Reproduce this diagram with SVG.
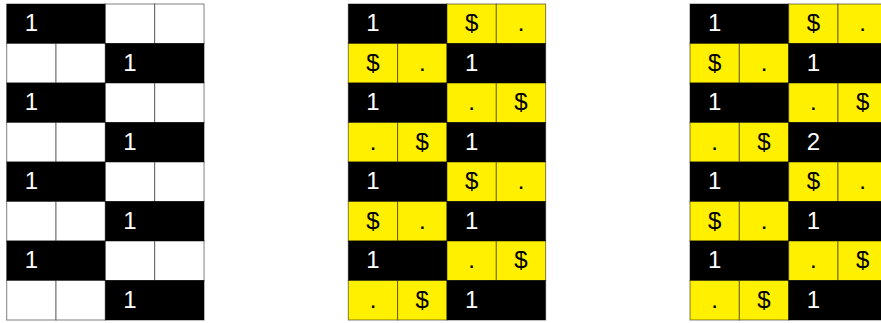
<svg xmlns="http://www.w3.org/2000/svg" width="881" height="323" viewBox="0 0 881 323">
<style>
rect{stroke:rgba(0,0,0,0.5);stroke-width:1}
rect.bg{stroke:none;fill:#fff}
.b{fill:#000}
.w{fill:#fff}
.y{fill:#fff000}
text{font-family:"Liberation Sans",Arial,sans-serif;font-size:24px;text-anchor:middle}
.tw{fill:#fff}
.tk{fill:#000}
</style>
<rect class="bg" x="0" y="0" width="881" height="323"/>
<g id="grid1">
<g id="g1r0"><rect class="b" x="6.7" y="4" width="98.67" height="39.5"/><text class="tw" x="31.37" y="31">1</text><rect class="w" x="105.37" y="4" width="49.33" height="39.5"/><rect class="w" x="154.7" y="4" width="49.33" height="39.5"/></g>
<g id="g1r1"><rect class="w" x="6.7" y="43.5" width="49.33" height="39.5"/><rect class="w" x="56.03" y="43.5" width="49.33" height="39.5"/><rect class="b" x="105.37" y="43.5" width="98.67" height="39.5"/><text class="tw" x="130.03" y="70.5">1</text></g>
<g id="g1r2"><rect class="b" x="6.7" y="83" width="98.67" height="39.5"/><text class="tw" x="31.37" y="110">1</text><rect class="w" x="105.37" y="83" width="49.33" height="39.5"/><rect class="w" x="154.7" y="83" width="49.33" height="39.5"/></g>
<g id="g1r3"><rect class="w" x="6.7" y="122.5" width="49.33" height="39.5"/><rect class="w" x="56.03" y="122.5" width="49.33" height="39.5"/><rect class="b" x="105.37" y="122.5" width="98.67" height="39.5"/><text class="tw" x="130.03" y="149.5">1</text></g>
<g id="g1r4"><rect class="b" x="6.7" y="162" width="98.67" height="39.5"/><text class="tw" x="31.37" y="189">1</text><rect class="w" x="105.37" y="162" width="49.33" height="39.5"/><rect class="w" x="154.7" y="162" width="49.33" height="39.5"/></g>
<g id="g1r5"><rect class="w" x="6.7" y="201.5" width="49.33" height="39.5"/><rect class="w" x="56.03" y="201.5" width="49.33" height="39.5"/><rect class="b" x="105.37" y="201.5" width="98.67" height="39.5"/><text class="tw" x="130.03" y="228.5">1</text></g>
<g id="g1r6"><rect class="b" x="6.7" y="241" width="98.67" height="39.5"/><text class="tw" x="31.37" y="268">1</text><rect class="w" x="105.37" y="241" width="49.33" height="39.5"/><rect class="w" x="154.7" y="241" width="49.33" height="39.5"/></g>
<g id="g1r7"><rect class="w" x="6.7" y="280.5" width="49.33" height="39.5"/><rect class="w" x="56.03" y="280.5" width="49.33" height="39.5"/><rect class="b" x="105.37" y="280.5" width="98.67" height="39.5"/><text class="tw" x="130.03" y="307.5">1</text></g>
</g>
<g id="grid2">
<g id="g2r0"><rect class="b" x="348.3" y="4" width="98.67" height="39.5"/><text class="tw" x="372.97" y="31">1</text><rect class="y" x="446.97" y="4" width="49.33" height="39.5"/><text class="tk" x="471.63" y="31">$</text><rect class="y" x="496.3" y="4" width="49.33" height="39.5"/><text class="tk" x="520.97" y="31">.</text></g>
<g id="g2r1"><rect class="y" x="348.3" y="43.5" width="49.33" height="39.5"/><text class="tk" x="372.97" y="70.5">$</text><rect class="y" x="397.63" y="43.5" width="49.33" height="39.5"/><text class="tk" x="422.3" y="70.5">.</text><rect class="b" x="446.97" y="43.5" width="98.67" height="39.5"/><text class="tw" x="471.63" y="70.5">1</text></g>
<g id="g2r2"><rect class="b" x="348.3" y="83" width="98.67" height="39.5"/><text class="tw" x="372.97" y="110">1</text><rect class="y" x="446.97" y="83" width="49.33" height="39.5"/><text class="tk" x="471.63" y="110">.</text><rect class="y" x="496.3" y="83" width="49.33" height="39.5"/><text class="tk" x="520.97" y="110">$</text></g>
<g id="g2r3"><rect class="y" x="348.3" y="122.5" width="49.33" height="39.5"/><text class="tk" x="372.97" y="149.5">.</text><rect class="y" x="397.63" y="122.5" width="49.33" height="39.5"/><text class="tk" x="422.3" y="149.5">$</text><rect class="b" x="446.97" y="122.5" width="98.67" height="39.5"/><text class="tw" x="471.63" y="149.5">1</text></g>
<g id="g2r4"><rect class="b" x="348.3" y="162" width="98.67" height="39.5"/><text class="tw" x="372.97" y="189">1</text><rect class="y" x="446.97" y="162" width="49.33" height="39.5"/><text class="tk" x="471.63" y="189">$</text><rect class="y" x="496.3" y="162" width="49.33" height="39.5"/><text class="tk" x="520.97" y="189">.</text></g>
<g id="g2r5"><rect class="y" x="348.3" y="201.5" width="49.33" height="39.5"/><text class="tk" x="372.97" y="228.5">$</text><rect class="y" x="397.63" y="201.5" width="49.33" height="39.5"/><text class="tk" x="422.3" y="228.5">.</text><rect class="b" x="446.97" y="201.5" width="98.67" height="39.5"/><text class="tw" x="471.63" y="228.5">1</text></g>
<g id="g2r6"><rect class="b" x="348.3" y="241" width="98.67" height="39.5"/><text class="tw" x="372.97" y="268">1</text><rect class="y" x="446.97" y="241" width="49.33" height="39.5"/><text class="tk" x="471.63" y="268">.</text><rect class="y" x="496.3" y="241" width="49.33" height="39.5"/><text class="tk" x="520.97" y="268">$</text></g>
<g id="g2r7"><rect class="y" x="348.3" y="280.5" width="49.33" height="39.5"/><text class="tk" x="372.97" y="307.5">.</text><rect class="y" x="397.63" y="280.5" width="49.33" height="39.5"/><text class="tk" x="422.3" y="307.5">$</text><rect class="b" x="446.97" y="280.5" width="98.67" height="39.5"/><text class="tw" x="471.63" y="307.5">1</text></g>
</g>
<g id="grid3">
<g id="g3r0"><rect class="b" x="690" y="4" width="98.67" height="39.5"/><text class="tw" x="714.67" y="31">1</text><rect class="y" x="788.67" y="4" width="49.33" height="39.5"/><text class="tk" x="813.33" y="31">$</text><rect class="y" x="838" y="4" width="49.33" height="39.5"/><text class="tk" x="862.67" y="31">.</text></g>
<g id="g3r1"><rect class="y" x="690" y="43.5" width="49.33" height="39.5"/><text class="tk" x="714.67" y="70.5">$</text><rect class="y" x="739.33" y="43.5" width="49.33" height="39.5"/><text class="tk" x="764" y="70.5">.</text><rect class="b" x="788.67" y="43.5" width="98.67" height="39.5"/><text class="tw" x="813.33" y="70.5">1</text></g>
<g id="g3r2"><rect class="b" x="690" y="83" width="98.67" height="39.5"/><text class="tw" x="714.67" y="110">1</text><rect class="y" x="788.67" y="83" width="49.33" height="39.5"/><text class="tk" x="813.33" y="110">.</text><rect class="y" x="838" y="83" width="49.33" height="39.5"/><text class="tk" x="862.67" y="110">$</text></g>
<g id="g3r3"><rect class="y" x="690" y="122.5" width="49.33" height="39.5"/><text class="tk" x="714.67" y="149.5">.</text><rect class="y" x="739.33" y="122.5" width="49.33" height="39.5"/><text class="tk" x="764" y="149.5">$</text><rect class="b" x="788.67" y="122.5" width="98.67" height="39.5"/><text class="tw" x="813.33" y="149.5">2</text></g>
<g id="g3r4"><rect class="b" x="690" y="162" width="98.67" height="39.5"/><text class="tw" x="714.67" y="189">1</text><rect class="y" x="788.67" y="162" width="49.33" height="39.5"/><text class="tk" x="813.33" y="189">$</text><rect class="y" x="838" y="162" width="49.33" height="39.5"/><text class="tk" x="862.67" y="189">.</text></g>
<g id="g3r5"><rect class="y" x="690" y="201.5" width="49.33" height="39.5"/><text class="tk" x="714.67" y="228.5">$</text><rect class="y" x="739.33" y="201.5" width="49.33" height="39.5"/><text class="tk" x="764" y="228.5">.</text><rect class="b" x="788.67" y="201.5" width="98.67" height="39.5"/><text class="tw" x="813.33" y="228.5">1</text></g>
<g id="g3r6"><rect class="b" x="690" y="241" width="98.67" height="39.5"/><text class="tw" x="714.67" y="268">1</text><rect class="y" x="788.67" y="241" width="49.33" height="39.5"/><text class="tk" x="813.33" y="268">.</text><rect class="y" x="838" y="241" width="49.33" height="39.5"/><text class="tk" x="862.67" y="268">$</text></g>
<g id="g3r7"><rect class="y" x="690" y="280.5" width="49.33" height="39.5"/><text class="tk" x="714.67" y="307.5">.</text><rect class="y" x="739.33" y="280.5" width="49.33" height="39.5"/><text class="tk" x="764" y="307.5">$</text><rect class="b" x="788.67" y="280.5" width="98.67" height="39.5"/><text class="tw" x="813.33" y="307.5">1</text></g>
</g>
</svg>
